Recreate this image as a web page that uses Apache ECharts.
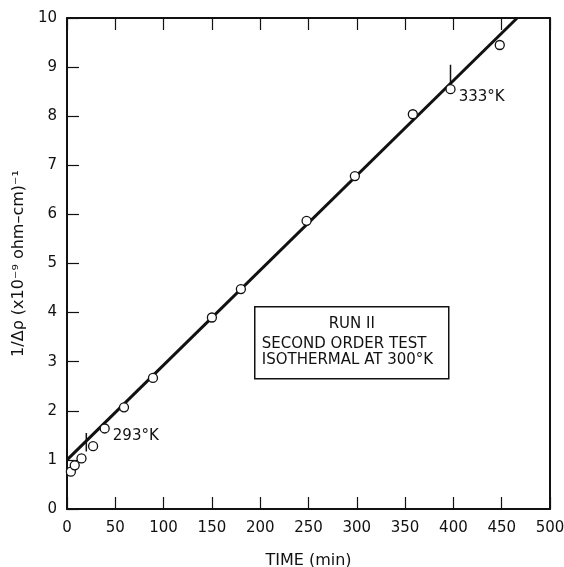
<!DOCTYPE html>
<html>
<head>
<meta charset="utf-8">
<script src="https://cdn.jsdelivr.net/npm/echarts@6/dist/echarts.min.js"></script>
<style>
  html, body { margin: 0; padding: 0; background: #fff; }
  #chart { width: 564px; height: 567px; }
</style>
</head>
<body>
<div id="chart"></div>
<script>
// measured points (time in min, 1/delta rho)
const timeMin = [4, 8, 15, 27, 39, 59, 89, 150, 180, 248, 298, 358, 397, 448];
const invRho = [0.76, 0.89, 1.03, 1.28, 1.64, 2.07, 2.67, 3.90, 4.48, 5.87, 6.78, 8.04, 8.55, 9.45];
const pointLabels = ['', '', '', '', '293°K', '', '', '', '', '', '', '', '333°K', ''];

// fitted straight line
const fitX = [0, 466];
const fitY = [1.0, 10];

// short vertical markers where temperature was read
const markX = [20, 397];
const markLow = [1.17, 8.67];
const markHigh = [1.55, 9.05];

const xTicks = [0, 50, 100, 150, 200, 250, 300, 350, 400, 450, 500];
const yTicks = [0, 1, 2, 3, 4, 5, 6, 7, 8, 9, 10];

const font = 'DejaVu Sans, sans-serif';
const myChart = echarts.init(document.getElementById('chart'));

const markerSeries = markX.map((x, i) => ({
  type: 'line',
  data: [[x, markLow[i]], [x, markHigh[i]]],
  symbol: 'none',
  lineStyle: { color: '#111', width: 1.5 },
  silent: true,
  z: 3,
}));

const option = {
  backgroundColor: '#fff',
  animation: false,
  grid: { left: 67, right: 14, top: 18, bottom: 58, outerBoundsMode: 'none', containLabel: false },
  xAxis: [
    {
      type: 'value',
      min: xTicks[0],
      max: xTicks[xTicks.length - 1],
      interval: 50,
      name: 'TIME (min)',
      nameLocation: 'middle',
      nameGap: 44,
      nameTextStyle: { color: '#111', fontSize: 16, fontFamily: font },
      axisLine: { show: true, onZero: false, lineStyle: { color: '#111', width: 2 } },
      axisTick: { show: true, inside: true, length: 12, lineStyle: { color: '#111', width: 1.2 } },
      axisLabel: { color: '#111', fontSize: 15, fontFamily: font, margin: 12 },
      splitLine: { show: false },
    },
    {
      // top border with ticks
      type: 'value',
      position: 'top',
      min: xTicks[0],
      max: xTicks[xTicks.length - 1],
      interval: 50,
      axisLine: { show: true, onZero: false, lineStyle: { color: '#111', width: 2 } },
      axisTick: { show: true, inside: true, length: 12, lineStyle: { color: '#111', width: 1.2 } },
      axisLabel: { show: false },
      splitLine: { show: false },
    },
  ],
  yAxis: [
    {
      type: 'value',
      min: yTicks[0],
      max: yTicks[yTicks.length - 1],
      interval: 1,
      name: '1/Δρ (x10⁻⁹ ohm–cm)⁻¹',
      nameLocation: 'middle',
      nameGap: 40,
      nameTextStyle: { color: '#111', fontSize: 16, fontFamily: font },
      axisLine: { show: true, onZero: false, lineStyle: { color: '#111', width: 2 } },
      axisTick: { show: true, inside: true, length: 12, lineStyle: { color: '#111', width: 1.2 } },
      axisLabel: { color: '#111', fontSize: 15, fontFamily: font, margin: 10 },
      splitLine: { show: false },
    },
    {
      // right border
      type: 'value',
      position: 'right',
      min: yTicks[0],
      max: yTicks[yTicks.length - 1],
      interval: 1,
      axisLine: { show: true, onZero: false, lineStyle: { color: '#111', width: 2 } },
      axisTick: { show: false },
      axisLabel: { show: false },
      splitLine: { show: false },
    },
  ],
  series: [
    {
      // fitted line
      type: 'line',
      data: fitX.map((x, i) => [x, fitY[i]]),
      symbol: 'none',
      lineStyle: { color: '#111', width: 3 },
      silent: true,
      z: 2,
    },
    ...markerSeries,
    {
      type: 'scatter',
      data: timeMin.map((t, i) => ({
        value: [t, invRho[i]],
        label: {
          show: pointLabels[i] !== '',
          formatter: pointLabels[i],
          position: 'right',
          offset: [-2, 8],
          color: '#111',
          fontSize: 15,
          fontFamily: font,
        },
      })),
      symbol: 'circle',
      symbolSize: 9,
      itemStyle: { color: '#fff', borderColor: '#111', borderWidth: 1.3, opacity: 1 },
      z: 4,
    },
  ],
  graphic: [
    {
      type: 'group',
      left: 254,
      top: 306,
      children: [
        {
          type: 'rect',
          shape: { x: 0, y: 0, width: 194, height: 72 },
          style: { fill: '#fff', stroke: '#111', lineWidth: 1.5 },
        },
        {
          type: 'text',
          x: 97,
          y: 17,
          style: { text: 'RUN II', fill: '#111', fontSize: 15, fontFamily: font, align: 'center', verticalAlign: 'middle' },
        },
        {
          type: 'text',
          x: 7,
          y: 37,
          style: { text: 'SECOND ORDER TEST', fill: '#111', fontSize: 15, fontFamily: font, align: 'left', verticalAlign: 'middle' },
        },
        {
          type: 'text',
          x: 7,
          y: 53,
          style: { text: 'ISOTHERMAL AT 300°K', fill: '#111', fontSize: 15, fontFamily: font, align: 'left', verticalAlign: 'middle' },
        },
      ],
    },
  ],
};

myChart.setOption(option);
</script>
</body>
</html>
